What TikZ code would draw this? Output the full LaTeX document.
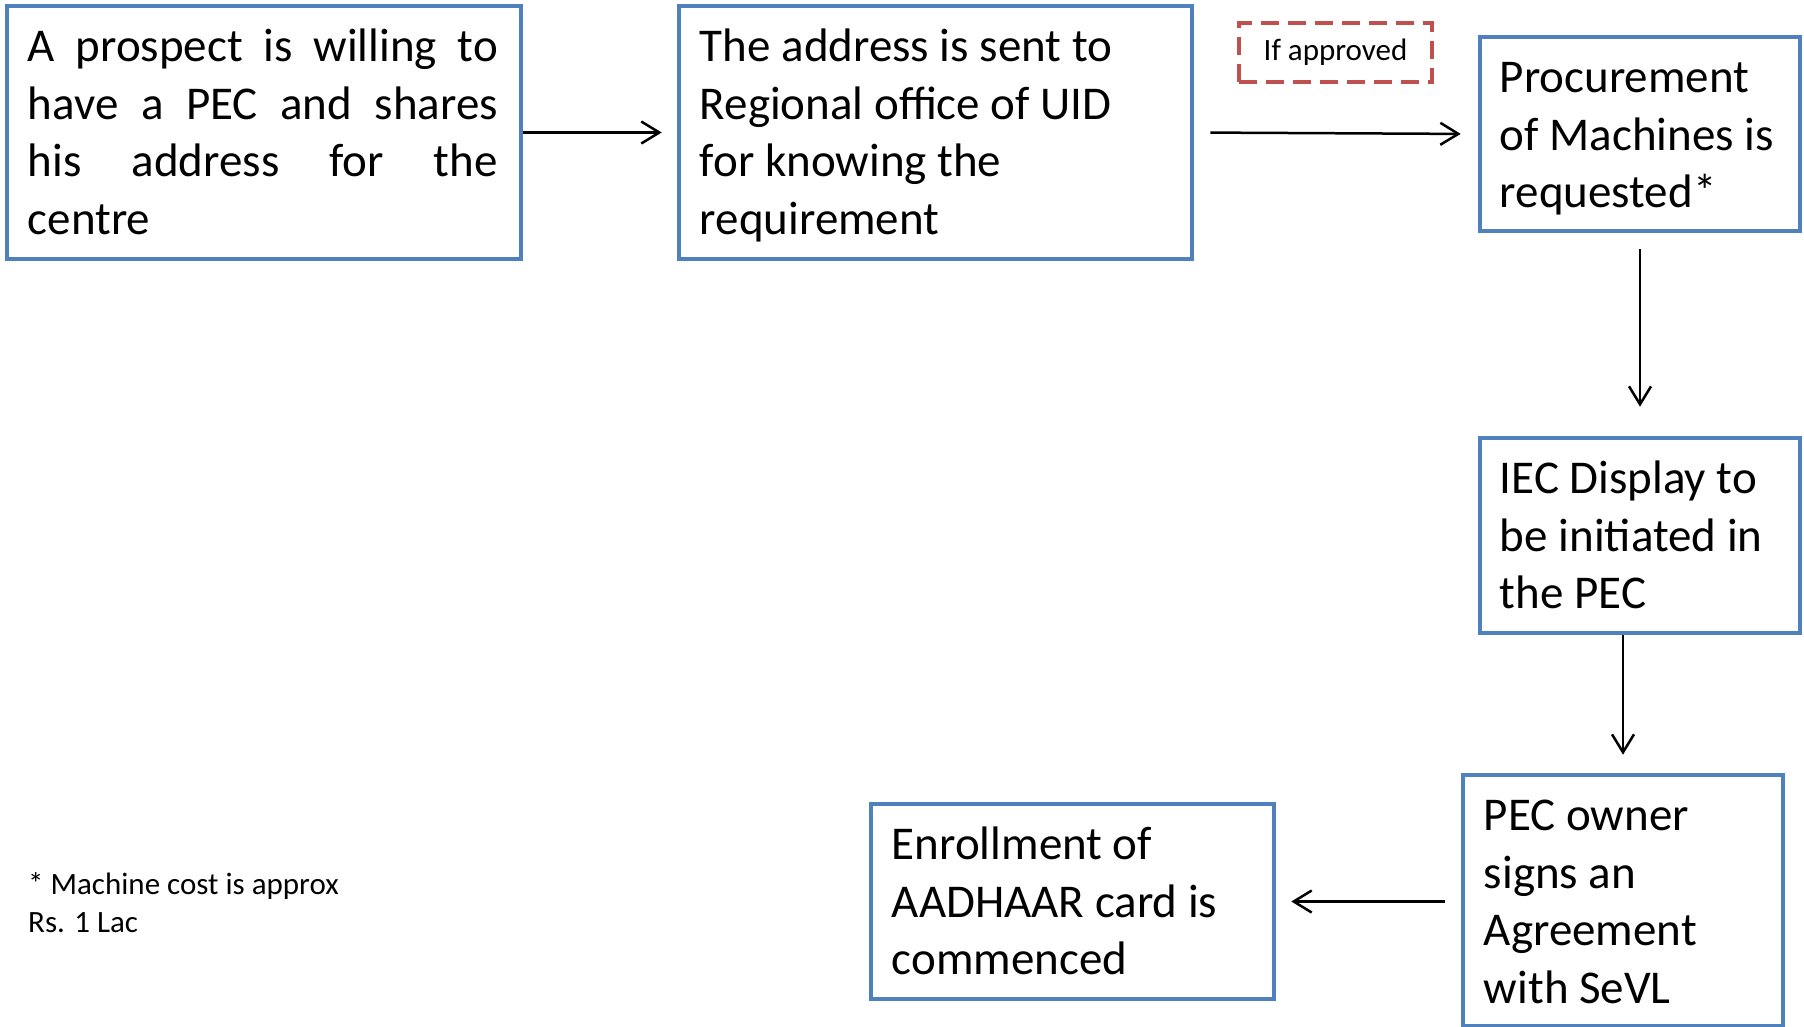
\documentclass[tikz,border=0pt]{standalone}
\usepackage{fontspec}
\setmainfont{Carlito}
\usetikzlibrary{arrows.meta}
\definecolor{boxblue}{HTML}{4F81BD}
\definecolor{dashred}{HTML}{C0504D}
\tikzset{
  flowbox/.style={draw=boxblue, line width=4.6pt, rectangle, inner sep=0pt},
  boxtext/.style={anchor=north west, inner sep=0pt, align=left,
    font=\fontsize{47}{57.5}\selectfont},
  conn/.style={line width=2.5pt, -{Straight Barb[length=18pt,width=22pt,line width=2.5pt]}},
  notebox/.style={draw=dashred, line width=4.6pt, dash pattern=on 18pt off 9pt,
    minimum width=193pt, minimum height=59pt, inner sep=0pt,
    font=\fontsize{31}{38}\selectfont},
}
\newcommand{\firststrut}{\rule{0pt}{58pt}}
\begin{document}
\begin{tikzpicture}[x=1pt,y=-1pt]
\useasboundingbox (0,0) rectangle (1804,1026);
% boxes
\node[flowbox, minimum width=514pt, minimum height=253pt] (b1) at (264,132.5) {};
\node[flowbox, minimum width=513pt, minimum height=253pt] (b2) at (935.5,132.5) {};
\node[flowbox, minimum width=320pt, minimum height=194pt] (b3) at (1640,134) {};
\node[flowbox, minimum width=320pt, minimum height=195pt] (b4) at (1640,535.5) {};
\node[flowbox, minimum width=320pt, minimum height=251pt] (b5) at (1623,900.5) {};
\node[flowbox, minimum width=403pt, minimum height=195pt] (b6) at (1072.5,901.5) {};
% texts
\node[boxtext] (t1) at ([shift={(23pt,0pt)}]b1.north west) {\firststrut\makebox[470pt][s]{A prospect is willing to}\\\makebox[470pt][s]{have a PEC and shares}\\\makebox[470pt][s]{his address for the}\\centre};
\node[boxtext] (t2) at ([shift={(23pt,0pt)}]b2.north west) {\firststrut The address is sent to\\Regional office of UID\\for knowing the\\requirement};
\node[boxtext] (t3) at ([shift={(22pt,0pt)}]b3.north west) {\firststrut Procurement\\of Machines is\\requested*};
\node[boxtext] (t4) at ([shift={(22pt,0pt)}]b4.north west) {\firststrut IEC Display to\\be initiated in\\the PEC};
\node[boxtext] (t5) at ([shift={(23pt,0pt)}]b5.north west) {\firststrut PEC owner\\signs an\\Agreement\\with SeVL};
\node[boxtext] (t6) at ([shift={(23pt,0pt)}]b6.north west) {\firststrut Enrollment of\\AADHAAR card is\\commenced};
% condition label
\node[notebox] (cond) at (1335.5,52.5) {If approved};
% footnote
\node[anchor=base west, inner sep=0pt, align=left, font=\fontsize{31}{38}\selectfont] (note) at (28,932) {* Machine cost is approx\\Rs. 1 Lac};
% connectors
\draw[conn, shorten >=15pt] (b1.east) -- (b2.west);
\draw[conn, shorten <=16pt, shorten >=17pt] (b2.east) -- (b3.west);
\draw[conn, shorten <=16pt, shorten >=29pt] (b3.south) -- (b4.north);
\draw[conn, shorten >=18pt] (b5.north |- b4.south) -- (b5.north);
\draw[conn, shorten <=16pt, shorten >=15pt] (b5.west |- b6.east) -- (b6.east);
\end{tikzpicture}
\end{document}
